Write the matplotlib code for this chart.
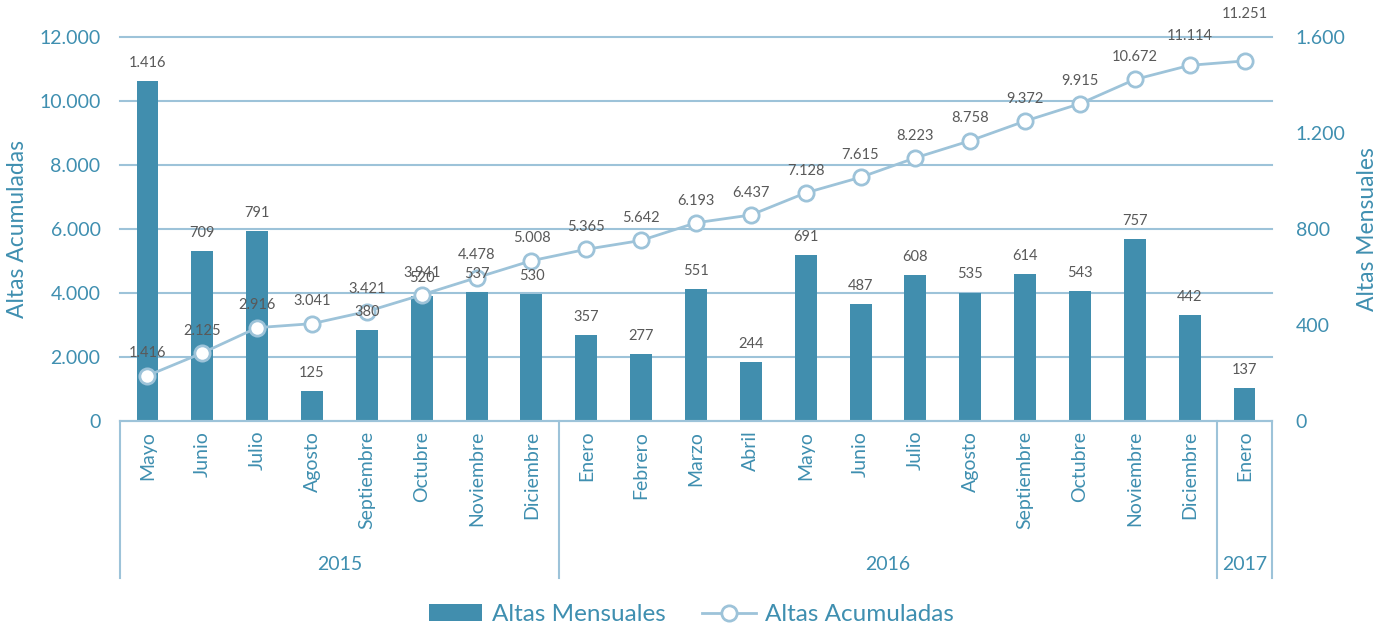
import numpy as np
import matplotlib.pyplot as plt
from matplotlib.lines import Line2D
from matplotlib.patches import Patch

plt.rcParams['font.family'] = ['Lato', 'DejaVu Sans']

meses = ['Mayo', 'Junio', 'Julio', 'Agosto', 'Septiembre', 'Octubre', 'Noviembre', 'Diciembre',
         'Enero', 'Febrero', 'Marzo', 'Abril', 'Mayo', 'Junio', 'Julio', 'Agosto',
         'Septiembre', 'Octubre', 'Noviembre', 'Diciembre', 'Enero']
anios = ['2015', '2016', '2017']
meses_por_anio = [8, 12, 1]
altas_mensuales = [1416, 709, 791, 125, 380, 520, 537, 530, 357, 277, 551, 244,
                   691, 487, 608, 535, 614, 543, 757, 442, 137]
altas_acumuladas = [1416, 2125, 2916, 3041, 3421, 3941, 4478, 5008, 5365, 5642, 6193, 6437,
                    7128, 7615, 8223, 8758, 9372, 9915, 10672, 11114, 11251]

bar_color = '#418EAE'
line_color = '#9DC3D9'
tick_color = '#3F8FB0'
label_color = '#595959'

# extra lift for the crowded labels at the end of the line
lift = {19: 5, 20: 18}


def fmt(v):
    return f"{v:,}".replace(",", ".")


fig = plt.figure(figsize=(13.83, 6.32), dpi=100)
ax = fig.add_axes([0.0868, 0.3339, 0.8329, 0.6076])
ax2 = ax.twinx()
x = np.arange(len(meses))

# bars on right axis
ax2.set_ylim(0, 1600)
for k in range(1, 7):
    ax2.axhline(k * 1600 / 6, color=line_color, lw=1.5, zorder=0, clip_on=False)
ax2.bar(x, altas_mensuales, width=0.4, color=bar_color, zorder=2)

# line on left axis
ax.set_zorder(ax2.get_zorder() + 1)
ax.patch.set_visible(False)
ax.set_ylim(0, 12000)
ax.plot(x, altas_acumuladas, color=line_color, lw=2, marker='o', markersize=11,
        markerfacecolor='white', markeredgecolor=line_color, markeredgewidth=2, clip_on=False)
for xi, v in zip(x, altas_acumuladas):
    ax.annotate(fmt(v), (xi, v), xytext=(0, 11 + lift.get(xi, 0)), textcoords='offset points',
                ha='center', va='bottom', fontsize=10.5, color=label_color, zorder=5)
# bar labels drawn on the top axes so they sit above the markers
for xi, v in zip(x, altas_mensuales):
    ax.annotate(fmt(v), (xi, v), xycoords=ax2.transData, xytext=(0, 8),
                textcoords='offset points', ha='center', va='bottom', fontsize=10.5,
                color=label_color, zorder=5)

ax.set_xlim(-0.5, len(meses) - 0.5)
ax.set_yticks(np.arange(0, 12001, 2000))
ax.set_yticklabels([fmt(v) for v in range(0, 12001, 2000)])
ax2.set_yticks(np.arange(0, 1601, 400))
ax2.set_yticklabels([fmt(v) for v in range(0, 1601, 400)])
for a in (ax, ax2):
    a.tick_params(axis='y', length=0, labelsize=14, labelcolor=tick_color)
    for s in ('top', 'left', 'right'):
        a.spines[s].set_visible(False)
    a.spines['bottom'].set_color(line_color)
    a.spines['bottom'].set_linewidth(1.5)
ax.tick_params(axis='y', pad=14)
ax2.tick_params(axis='y', pad=17)
ax.set_xticks(x)
ax.set_xticklabels(meses, rotation=90, fontsize=14, color=tick_color)
ax.tick_params(axis='x', length=0, pad=7)

ax.set_ylabel('Altas Acumuladas', fontsize=16.5, color=tick_color, labelpad=8)
ax2.set_ylabel('Altas Mensuales', fontsize=16.5, color=tick_color, labelpad=8)

# grouped category axis
trans = ax.get_xaxis_transform()
bounds = np.concatenate([[0], np.cumsum(meses_por_anio)]) - 0.5
for b in bounds:
    ax.plot([b, b], [0, -0.41], transform=trans, color=line_color, lw=1.5, clip_on=False)
for anio, lo, hi in zip(anios, bounds[:-1], bounds[1:]):
    ax.text((lo + hi) / 2, -0.375, anio, transform=trans, ha='center', va='center',
            fontsize=14, color=tick_color)

handles = [Patch(facecolor=bar_color),
           Line2D([0], [0], color=line_color, lw=2, marker='o', markersize=11,
                  markerfacecolor='white', markeredgecolor=line_color, markeredgewidth=2)]
fig.legend(handles, ['Altas Mensuales', 'Altas Acumuladas'], loc='center',
           bbox_to_anchor=(0.5, 0.027), ncol=2, frameon=False, fontsize=17.5,
           labelcolor=tick_color, handlelength=2.2, handletextpad=0.4, columnspacing=1.5)

fig.savefig('out.png', dpi=100)
